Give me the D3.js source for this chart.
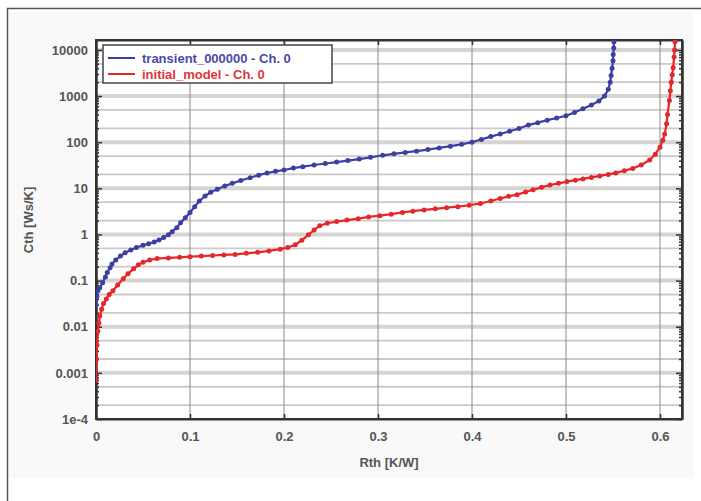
<!DOCTYPE html>
<html>
<head>
<meta charset="utf-8">
<script src="https://cdn.jsdelivr.net/npm/d3@7"></script>
<style>
  body { margin: 0; background: #fff; }
  svg { font-family: "Liberation Sans", Arial, sans-serif; }
</style>
</head>
<body>
<div id="container"></div>
<script>
/* DATA */
const seriesNames = ["transient_000000 - Ch. 0", "initial_model - Ch. 0"]

// transient curve: Rth [K/W], Cth [Ws/K]
const transientRth = [0, 0.001, 0.002, 0.004, 0.007, 0.010, 0.012, 0.015, 0.017, 0.021, 0.026, 0.031, 0.037, 0.043, 0.050, 0.056, 0.062, 0.067, 0.072, 0.077, 0.081, 0.086, 0.090, 0.095, 0.100, 0.105, 0.110, 0.116, 0.122, 0.129, 0.137, 0.145, 0.154, 0.164, 0.173, 0.182, 0.191, 0.200, 0.210, 0.220, 0.232, 0.244, 0.256, 0.268, 0.280, 0.292, 0.305, 0.317, 0.329, 0.341, 0.353, 0.365, 0.377, 0.389, 0.400, 0.410, 0.420, 0.430, 0.440, 0.450, 0.460, 0.470, 0.480, 0.490, 0.500, 0.509, 0.518, 0.527, 0.535, 0.541, 0.545, 0.547, 0.548, 0.549, 0.550, 0.5502, 0.5508, 0.551]
const transientCth = [0.03, 0.045, 0.06, 0.07, 0.09, 0.12, 0.15, 0.19, 0.23, 0.28, 0.34, 0.40, 0.46, 0.52, 0.58, 0.63, 0.69, 0.76, 0.86, 0.98, 1.15, 1.4, 1.8, 2.3, 3.0, 4.0, 5.3, 6.8, 8.2, 9.6, 11.2, 12.8, 14.8, 17, 19.3, 21.5, 23.3, 25, 27.5, 29.5, 32, 34.5, 37, 40, 43, 47, 52, 56, 60, 64, 69, 75, 82, 90, 100, 115, 132, 150, 172, 198, 235, 265, 300, 335, 375, 440, 530, 640, 780, 1000, 1400, 2000, 2800, 4000, 5800, 8000, 11000, 15000]

// initial model curve
const modelRth = [0, 0.0005, 0.001, 0.002, 0.003, 0.004, 0.006, 0.008, 0.011, 0.014, 0.018, 0.023, 0.029, 0.034, 0.040, 0.045, 0.050, 0.057, 0.065, 0.077, 0.089, 0.100, 0.112, 0.124, 0.136, 0.148, 0.160, 0.172, 0.184, 0.196, 0.204, 0.212, 0.219, 0.226, 0.232, 0.238, 0.246, 0.256, 0.267, 0.279, 0.290, 0.302, 0.314, 0.326, 0.337, 0.349, 0.361, 0.373, 0.385, 0.397, 0.409, 0.420, 0.430, 0.439, 0.448, 0.457, 0.465, 0.474, 0.483, 0.492, 0.501, 0.510, 0.518, 0.527, 0.536, 0.545, 0.553, 0.562, 0.571, 0.580, 0.589, 0.595, 0.600, 0.603, 0.605, 0.607, 0.608, 0.610, 0.611, 0.612, 0.613, 0.614, 0.615, 0.6155, 0.616]
const modelCth = [0.0007, 0.002, 0.004, 0.008, 0.012, 0.017, 0.024, 0.032, 0.04, 0.05, 0.06, 0.08, 0.11, 0.14, 0.18, 0.22, 0.25, 0.28, 0.30, 0.31, 0.32, 0.33, 0.34, 0.35, 0.36, 0.37, 0.39, 0.41, 0.44, 0.48, 0.52, 0.60, 0.75, 0.98, 1.25, 1.55, 1.75, 1.9, 2.05, 2.2, 2.4, 2.55, 2.75, 3.0, 3.2, 3.4, 3.6, 3.8, 4.0, 4.3, 4.7, 5.3, 6.0, 6.7, 7.3, 8.3, 9.3, 10.5, 11.8, 12.8, 14, 15, 16, 17.2, 18.6, 20, 21.6, 24, 27, 32, 41, 55, 78, 110, 150, 250, 400, 800, 1300, 2000, 2900, 4100, 7000, 10000, 15000]

const xTicks = [0, 0.1, 0.2, 0.3, 0.4, 0.5, 0.6]
const yTicks = [10000, 1000, 100, 10, 1, 0.1, 0.01, 0.001, 0.0001]
const yTickLabels = ["10000", "1000", "100", "10", "1", "0.1", "0.01", "0.001", "1e-4"]

/* CONSTANTS AND GLOBALS */
const width = 701, height = 501
const margin = { top: 40, bottom: 82, left: 96, right: 19 }
const colors = ["#3d3fa3", "#e5272b"]
const textColors = ["#4a4aa6", "#e0363a"]

const xScale = d3.scaleLinear()
  .domain([0, 0.6234])
  .range([margin.left, width - margin.right])

const yScale = d3.scaleLog()
  .domain([1e-4, 16400])
  .range([height - margin.bottom, margin.top])

const svg = d3.select("#container")
  .append("svg")
  .attr("width", width)
  .attr("height", height)

// page frame
svg.append("rect")
  .attr("x", 9).attr("y", 12)
  .attr("width", 684).attr("height", 466)
  .attr("fill", "#f9f9f9")
svg.append("path")
  .attr("d", "M7.5,501 V8.5 H701")
  .attr("fill", "none")
  .attr("stroke", "#555")
  .attr("stroke-width", 1.5)

svg.append("rect")
  .attr("x", margin.left).attr("y", margin.top)
  .attr("width", width - margin.left - margin.right)
  .attr("height", height - margin.top - margin.bottom)
  .attr("fill", "#fff")

// GRID
const minorVals = []
for (let e = -4; e < 5; e++) {
  for (let m = 2; m <= 9; m++) {
    const v = m * Math.pow(10, e)
    if (v < 16400) minorVals.push(v)
  }
}
const gridVals = minorVals.filter(v => {
  const m = Math.round(v / Math.pow(10, Math.floor(Math.log10(v) + 1e-9)))
  return m === 2 || m === 5
})

const grid = svg.append("g")
grid.selectAll(".hband")
  .data(yTicks.slice(0, -1))
  .join("line")
  .attr("x1", margin.left).attr("x2", width - margin.right)
  .attr("y1", d => yScale(d)).attr("y2", d => yScale(d))
  .attr("stroke", "#d6d3d0")
  .attr("stroke-width", 4)
grid.selectAll(".hline")
  .data(gridVals)
  .join("line")
  .attr("x1", margin.left).attr("x2", width - margin.right)
  .attr("y1", d => yScale(d)).attr("y2", d => yScale(d))
  .attr("stroke", "#cdc9c6")
  .attr("stroke-width", 1.8)
grid.selectAll(".vline")
  .data(xTicks.slice(1))
  .join("line")
  .attr("x1", d => xScale(d)).attr("x2", d => xScale(d))
  .attr("y1", margin.top).attr("y2", height - margin.bottom)
  .attr("stroke", "#8e8a88")
  .attr("stroke-width", 1)

// AXES
const xAxis = d3.axisBottom(xScale)
  .tickValues(xTicks)
  .tickFormat(d => d === 0 ? "0" : d.toFixed(1))
  .tickSizeInner(-5).tickSizeOuter(0).tickPadding(13)
svg.append("g")
  .attr("class", "xAxis")
  .attr("transform", `translate(0,${height - margin.bottom})`)
  .call(xAxis)

svg.append("g")
  .attr("transform", `translate(0,${margin.top})`)
  .call(d3.axisTop(xScale).tickValues(xTicks).tickFormat("").tickSizeInner(-5).tickSizeOuter(0))

const yAxis = d3.axisLeft(yScale)
  .tickValues(yTicks)
  .tickFormat((d, i) => yTickLabels[i])
  .tickSizeInner(-6).tickSizeOuter(0).tickPadding(8)
svg.append("g")
  .attr("class", "yAxis")
  .attr("transform", `translate(${margin.left},0)`)
  .call(yAxis)

svg.append("g")
  .attr("transform", `translate(${margin.left},0)`)
  .call(d3.axisLeft(yScale).tickValues(minorVals).tickFormat("").tickSizeInner(-3).tickSizeOuter(0))

svg.append("g")
  .attr("transform", `translate(${width - margin.right},0)`)
  .call(d3.axisRight(yScale).tickValues(yTicks).tickFormat("").tickSizeInner(-6).tickSizeOuter(0))
svg.append("g")
  .attr("transform", `translate(${width - margin.right},0)`)
  .call(d3.axisRight(yScale).tickValues(minorVals).tickFormat("").tickSizeInner(-3).tickSizeOuter(0))

svg.selectAll(".domain").attr("stroke", "#333").attr("stroke-width", 2)
svg.selectAll(".tick line").attr("stroke", "#333").attr("stroke-width", 1.5)
svg.selectAll(".tick text")
  .attr("fill", "#555")
  .attr("font-size", 13)
  .attr("font-weight", "bold")

// plot frame
svg.append("rect")
  .attr("x", margin.left).attr("y", margin.top)
  .attr("width", width - margin.left - margin.right)
  .attr("height", height - margin.top - margin.bottom)
  .attr("fill", "none")
  .attr("stroke", "#333")
  .attr("stroke-width", 2)

// axis titles
svg.append("text")
  .attr("x", (margin.left + width - margin.right) / 2)
  .attr("y", 467)
  .attr("text-anchor", "middle")
  .attr("fill", "#555")
  .attr("font-size", 13)
  .attr("font-weight", "bold")
  .text("Rth  [K/W]")

svg.append("text")
  .attr("transform", "translate(33,220) rotate(-90)")
  .attr("text-anchor", "middle")
  .attr("fill", "#555")
  .attr("font-size", 13)
  .attr("font-weight", "bold")
  .text("Cth  [Ws/K]")

// LINES
const series = [
  d3.zip(transientRth, transientCth),
  d3.zip(modelRth, modelCth)
]

svg.append("clipPath").attr("id", "clip")
  .append("rect")
  .attr("x", margin.left).attr("y", margin.top)
  .attr("width", width - margin.left - margin.right)
  .attr("height", height - margin.top - margin.bottom)

const lineGen = d3.line()
  .x(d => xScale(d[0]))
  .y(d => yScale(d[1]))

const plot = svg.append("g").attr("clip-path", "url(#clip)")

series.slice().reverse().forEach((s, j) => {
  const i = series.length - 1 - j
  plot.append("path")
    .datum(s)
    .attr("fill", "none")
    .attr("stroke", colors[i])
    .attr("stroke-width", 2.2)
    .attr("d", lineGen)
  plot.selectAll(".dot" + i)
    .data(s)
    .join("circle")
    .attr("cx", d => xScale(d[0]))
    .attr("cy", d => yScale(d[1]))
    .attr("r", 2.5)
    .attr("fill", colors[i])
})

// LEGEND
const legend = svg.append("g")
legend.append("rect")
  .attr("x", 103).attr("y", 45)
  .attr("width", 229).attr("height", 38)
  .attr("fill", "#fff")
  .attr("stroke", "#444")
  .attr("stroke-width", 1.5)

seriesNames.forEach((name, i) => {
  const y = 58 + i * 16
  legend.append("line")
    .attr("x1", 108).attr("x2", 135)
    .attr("y1", y).attr("y2", y)
    .attr("stroke", colors[i])
    .attr("stroke-width", 2)
  legend.append("text")
    .attr("x", 142).attr("y", y + 4.5)
    .attr("fill", textColors[i])
    .attr("font-size", 13)
    .attr("font-weight", "bold")
    .text(name)
})
</script>
</body>
</html>
